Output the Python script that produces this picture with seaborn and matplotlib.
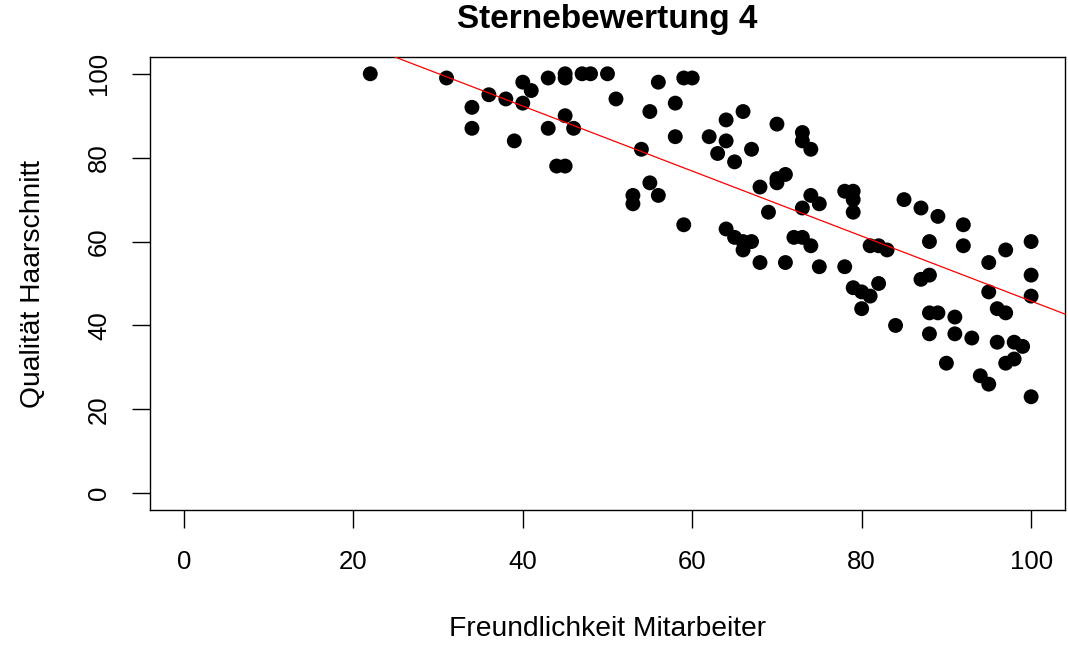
import numpy as np
import pandas as pd
import matplotlib
matplotlib.use("Agg")
import matplotlib.pyplot as plt
import seaborn as sns

# Freundlichkeit der Mitarbeiter vs. Qualität des Haarschnitts (4 Sterne)
freundlichkeit = [22, 31, 34, 34, 36, 38, 39, 40, 40, 41, 43, 43, 44, 45, 45, 45, 45, 46,
                  47, 48, 50, 51, 53, 53, 54, 55, 55, 56, 56, 58, 58, 59, 60, 59, 62, 63,
                  64, 64, 64, 65, 65, 66, 66, 66, 67, 67, 68, 68, 69, 70, 70, 70, 71, 71,
                  72, 73, 73, 73, 73, 74, 74, 74, 75, 75, 78, 78, 79, 79, 79, 79, 80, 80,
                  81, 81, 82, 82, 83, 84, 85, 87, 87, 88, 88, 88, 88, 89, 89, 90, 91, 91,
                  92, 92, 93, 94, 95, 95, 95, 96, 96, 97, 97, 97, 98, 98, 99, 100, 100,
                  100, 100]
qualitaet = [100, 99, 92, 87, 95, 94, 84, 98, 93, 96, 99, 87, 78, 78, 100, 99, 90, 87,
             100, 100, 100, 94, 71, 69, 82, 91, 74, 98, 71, 93, 85, 99, 99, 64, 85, 81,
             89, 84, 63, 79, 61, 91, 60, 58, 82, 60, 73, 55, 67, 88, 75, 74, 76, 55,
             61, 86, 84, 68, 61, 82, 71, 59, 69, 54, 72, 54, 72, 70, 67, 49, 48, 44,
             59, 47, 59, 50, 58, 40, 70, 68, 51, 60, 52, 43, 38, 66, 43, 31, 42, 38,
             64, 59, 37, 28, 55, 48, 26, 44, 36, 58, 43, 31, 36, 32, 35, 60, 52,
             47, 23]

# Regressionsgerade (Achsenabschnitt, Steigung)
reg_intercept = 123.3
reg_slope = -0.775

x_ticks = [0, 20, 40, 60, 80, 100]
y_ticks = [0, 20, 40, 60, 80, 100]

df = pd.DataFrame({"Freundlichkeit": freundlichkeit, "Qualitaet": qualitaet})

sns.set_style("white")
plt.rcParams["font.family"] = ["Liberation Sans", "DejaVu Sans"]
plt.rcParams["text.color"] = "black"
plt.rcParams["axes.labelcolor"] = "black"
plt.rcParams["xtick.color"] = "black"
plt.rcParams["ytick.color"] = "black"

fig = plt.figure(figsize=(10.68, 6.46), dpi=100)
ax = fig.add_axes([150 / 1068, 1 - 510 / 646, 915 / 1068, 453 / 646])

sns.scatterplot(data=df, x="Freundlichkeit", y="Qualitaet", ax=ax,
                color="black", s=115, edgecolor="none", linewidth=0, zorder=3)

ax.axline((0, reg_intercept), slope=reg_slope, color="red", linewidth=0.9, zorder=4)

ax.set_xlim(-4, 104)
ax.set_ylim(-4, 104)

ax.set_xticks(x_ticks)
ax.set_yticks(y_ticks)
ax.set_xticklabels([str(t) for t in x_ticks], fontsize=18.5)
ax.set_yticklabels([str(t) for t in y_ticks], fontsize=18.5, rotation=90, va="center")
ax.tick_params(axis="both", direction="out", length=13, width=1, color="black",
               labelcolor="black", bottom=True, left=True)
ax.tick_params(axis="x", pad=16)
ax.tick_params(axis="y", pad=15)

for sp in ax.spines.values():
    sp.set_visible(True)
    sp.set_color("black")
    sp.set_linewidth(1)

ax.set_xlabel("Freundlichkeit Mitarbeiter", fontsize=20.3, va="center", color="black")
ax.xaxis.set_label_coords(0.5, (510 - 629) / 453)
ax.set_ylabel("Qualität Haarschnitt", fontsize=20.3, va="center", color="black")
ax.yaxis.set_label_coords((33 - 150) / 915, 0.5)

ax.set_title("Sternebewertung 4", fontsize=24, fontweight="bold", y=1.064,
             va="center", color="black")

fig.savefig("out.png", dpi=100)
